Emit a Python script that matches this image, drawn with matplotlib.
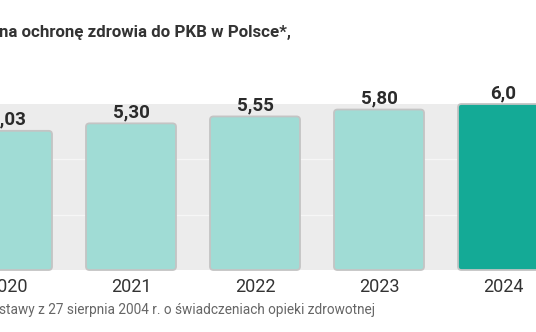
import matplotlib
matplotlib.use("Agg")
import matplotlib.pyplot as plt
from matplotlib.patches import FancyBboxPatch

years = ["2020", "2021", "2022", "2023", "2024"]
values = [5.03, 5.30, 5.55, 5.80, 6.0]
value_labels = ["5,03", "5,30", "5,55", "5,80", "6,0"]
title = "na ochronę zdrowia do PKB w Polsce*,"
footnote = "stawy z 27 sierpnia 2004 r. o świadczeniach opieki zdrowotnej"

W, H = 536, 332
fig = plt.figure(figsize=(W / 100, H / 100), dpi=100)
fig.patch.set_facecolor("white")

ax = fig.add_axes([0, 62 / H, 1, 166 / H])
ax.set_facecolor("#ececec")
x = list(range(len(years)))
ax.set_xlim(-7 / 124, (W - 7) / 124)
ax.set_ylim(0, 6)

for v in [2, 4]:
    ax.axhline(v, color="#f6f6f6", lw=1.0, zorder=1)

colors = ["#a0dcd5"] * 4 + ["#14aa96"]
bars = ax.bar(x, values, width=0.726, color=colors, zorder=2)

# rounded versions of the bars
px_x = 124.0          # pixels per x unit
px_y = 166.0 / 6.0    # pixels per y unit
for b, c in zip(bars, colors):
    b.set_visible(False)
    p = FancyBboxPatch((b.get_x(), b.get_y()), b.get_width(), b.get_height(),
                       boxstyle="round,pad=0,rounding_size=%f" % (3.5 / px_x),
                       mutation_aspect=px_x / px_y,
                       facecolor=c, edgecolor="#c4c4c4", linewidth=1.3,
                       zorder=2, clip_on=False)
    ax.add_patch(p)

for xi, v, lab in zip(x, values, value_labels):
    ax.annotate(lab, (xi, v), xytext=(0, 2), textcoords="offset pixels",
                ha="center", va="bottom", fontsize=13.5, fontweight="bold",
                family="Roboto", color="#2b2b2b", annotation_clip=False)

ax.set_xticks(x)
ax.set_xticklabels(years, family="Roboto", fontsize=13, color="#333333")
ax.tick_params(axis="x", length=0, pad=6)
ax.set_yticks([])
for s in ax.spines.values():
    s.set_visible(False)

fig.text(-1 / W, 1 - 32 / H, title, ha="left", va="center", fontsize=12.2,
         fontweight="bold", family="Roboto", color="#333333")
fig.text(-1 / W, 1 - 310 / H, footnote, ha="left", va="center", fontsize=9.8,
         family="Roboto", color="#666666")

fig.savefig("out.png", dpi=100)
